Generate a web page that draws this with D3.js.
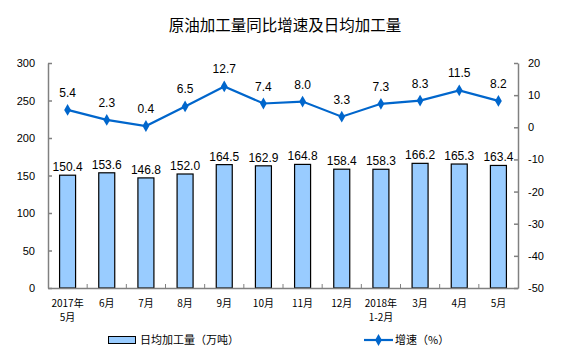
<!DOCTYPE html>
<html lang="zh">
<head>
    <meta charset="UTF-8">
    <title>原油加工量同比增速及日均加工量</title>
    <style>
        body { margin: 0; background: #fff; }
        text { font-family: Arial, "Liberation Sans", "Noto Sans CJK SC", sans-serif; }
    </style>
</head>
<body>
<script src="https://d3js.org/d3.v7.min.js"></script>
<div id="chart"></div>
<script type="text/javascript">

    // 数据
    var categories = ["2017年\n5月", "6月", "7月", "8月", "9月", "10月", "11月", "12月", "2018年\n1-2月", "3月", "4月", "5月"];
    var output = [150.4, 153.6, 146.8, 152.0, 164.5, 162.9, 164.8, 158.4, 158.3, 166.2, 165.3, 163.4];
    var growth = [5.4, 2.3, 0.4, 6.5, 12.7, 7.4, 8.0, 3.3, 7.3, 8.3, 11.5, 8.2];
    var leftTicks = [0, 50, 100, 150, 200, 250, 300];
    var rightTicks = [-50, -40, -30, -20, -10, 0, 10, 20];

    var W = 562, H = 358;
    var plotLeft = 48, plotRight = 518, plotTop = 63, plotBottom = 288;
    var axisColor = "#808080";
    var lineColor = "#0066cc";
    var cjk = "'Noto Sans CJK SC', sans-serif";

    var svg = d3.select("#chart")
        .append("svg")
        .attr("width", W)
        .attr("height", H);

    var x = d3.scaleBand().domain(categories).range([plotLeft, plotRight]);
    var yL = d3.scaleLinear().domain([0, 300]).range([plotBottom, plotTop]);
    var yR = d3.scaleLinear().domain([-50, 20]).range([plotBottom, plotTop]);

    // 标题
    svg.append("text")
        .attr("x", 285)
        .attr("y", 31)
        .attr("text-anchor", "middle")
        .style("font-family", cjk)
        .style("font-size", "15.5px")
        .style("fill", "#000")
        .text("原油加工量同比增速及日均加工量");

    // 左坐标轴
    var gL = svg.append("g")
        .attr("transform", "translate(" + plotLeft + ",0)")
        .call(d3.axisLeft(yL).tickValues(leftTicks).tickFormat(function(d) { return String(d); })
            .tickSizeInner(-4).tickSizeOuter(0).tickPadding(13));
    // 右坐标轴
    var gR = svg.append("g")
        .attr("transform", "translate(" + plotRight + ",0)")
        .call(d3.axisRight(yR).tickValues(rightTicks).tickFormat(function(d) { return String(d); })
            .tickSizeInner(-4).tickSizeOuter(0).tickPadding(10));
    [gL, gR].forEach(function(g) {
        g.selectAll("path, line").attr("stroke", axisColor).attr("stroke-width", 1.5);
        g.selectAll("text")
            .style("font-size", "11px")
            .style("font-family", "'Liberation Sans', Arial, sans-serif")
            .style("fill", "#000");
    });
    gR.selectAll("text").attr("text-anchor", "start");

    // 柱子
    var bw = 16;
    svg.append("g")
        .selectAll("rect")
        .data(output)
        .enter()
        .append("rect")
        .attr("x", function(d, i) { return x(categories[i]) + x.bandwidth() / 2 - bw / 2; })
        .attr("y", function(d) { return yL(d); })
        .attr("width", bw)
        .attr("height", function(d) { return yL(0) - yL(d); })
        .style("fill", "#99ccff")
        .style("stroke", "#000")
        .style("stroke-width", 1.2);

    // 柱子数值
    svg.append("g")
        .selectAll("text")
        .data(output)
        .enter()
        .append("text")
        .attr("x", function(d, i) { return x(categories[i]) + x.bandwidth() / 2; })
        .attr("y", function(d) { return yL(d) - 4; })
        .attr("text-anchor", "middle")
        .style("font-size", "12px")
        .style("fill", "#000")
        .text(function(d) { return d.toFixed(1); });

    // X 轴
    var gX = svg.append("g")
        .attr("transform", "translate(0," + plotBottom + ")")
        .call(d3.axisBottom(x).tickSize(0).tickFormat(""));
    gX.select(".domain").attr("stroke", axisColor).attr("stroke-width", 1.5);
    gX.selectAll(".tick").remove();
    // 类别间的刻度
    svg.append("g")
        .selectAll("line")
        .data(categories.slice(1))
        .enter()
        .append("line")
        .attr("x1", function(d) { return x(d); })
        .attr("x2", function(d) { return x(d); })
        .attr("y1", plotBottom)
        .attr("y2", plotBottom - 4)
        .attr("stroke", axisColor)
        .attr("stroke-width", 1);

    // 类别标签
    var catLabels = svg.append("g")
        .selectAll("text")
        .data(categories)
        .enter()
        .append("text")
        .attr("x", function(d) { return x(d) + x.bandwidth() / 2; })
        .attr("y", 307)
        .attr("text-anchor", "middle")
        .style("font-family", cjk)
        .style("font-size", "10px")
        .style("fill", "#000");
    catLabels.each(function(d) {
        var lines = d.split("\n");
        var t = d3.select(this);
        lines.forEach(function(s, k) {
            t.append("tspan")
                .attr("x", t.attr("x"))
                .attr("dy", k === 0 ? 0 : 14)
                .text(s);
        });
    });

    // 折线
    var line = d3.line()
        .x(function(d, i) { return x(categories[i]) + x.bandwidth() / 2; })
        .y(function(d) { return yR(d); });
    svg.append("path")
        .datum(growth)
        .attr("d", line)
        .attr("fill", "none")
        .attr("stroke", lineColor)
        .attr("stroke-width", 2.2);

    var diamond = d3.symbol().type(d3.symbolDiamond).size(40);
    svg.append("g")
        .selectAll("path")
        .data(growth)
        .enter()
        .append("path")
        .attr("d", diamond)
        .attr("transform", function(d, i) {
            return "translate(" + (x(categories[i]) + x.bandwidth() / 2) + "," + yR(d) + ")";
        })
        .attr("fill", lineColor);

    // 折线数值
    svg.append("g")
        .selectAll("text")
        .data(growth)
        .enter()
        .append("text")
        .attr("x", function(d, i) { return x(categories[i]) + x.bandwidth() / 2; })
        .attr("y", function(d) { return yR(d) - 13; })
        .attr("text-anchor", "middle")
        .style("font-size", "12px")
        .style("fill", "#000")
        .text(function(d) { return d.toFixed(1); });

    // 图例
    var legend = svg.append("g");
    legend.append("rect")
        .attr("x", 108.5)
        .attr("y", 336.5)
        .attr("width", 27)
        .attr("height", 7)
        .style("fill", "#99ccff")
        .style("stroke", "#000")
        .style("stroke-width", 1);
    legend.append("text")
        .attr("x", 140)
        .attr("y", 344)
        .style("font-family", cjk)
        .style("font-size", "11px")
        .style("fill", "#000")
        .text("日均加工量（万吨）");

    legend.append("line")
        .attr("x1", 364)
        .attr("x2", 393)
        .attr("y1", 340)
        .attr("y2", 340)
        .attr("stroke", lineColor)
        .attr("stroke-width", 2.2);
    legend.append("path")
        .attr("d", diamond)
        .attr("transform", "translate(378.5,340)")
        .attr("fill", lineColor);
    legend.append("text")
        .attr("x", 395)
        .attr("y", 344)
        .style("font-family", cjk)
        .style("font-size", "11px")
        .style("fill", "#000")
        .text("增速（%）");

</script>
</body>
</html>
